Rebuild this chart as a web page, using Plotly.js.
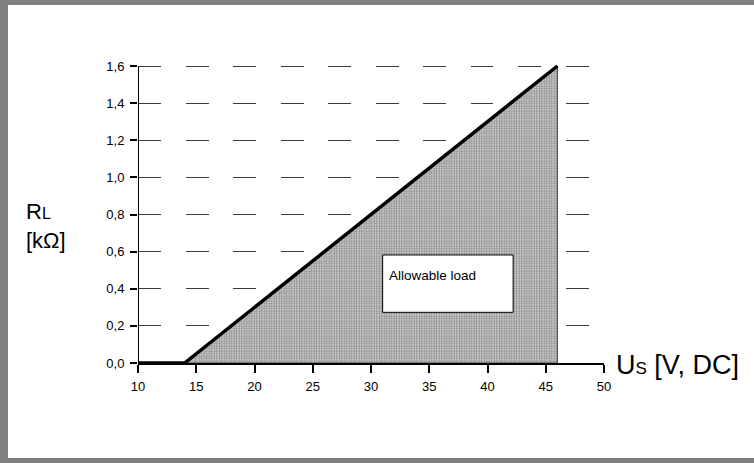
<!DOCTYPE html>
<html>
<head>
<meta charset="utf-8">
<script src="https://cdn.plot.ly/plotly-3.0.1.min.js"></script>
<style>
html,body{margin:0;padding:0;background:#fff;}
#wrap{position:relative;width:754px;height:463px;}
#chart{width:754px;height:463px;}
#frame{position:absolute;left:0;top:0;width:754px;height:463px;box-sizing:border-box;
 border-left:8px solid #808080;border-top:5px solid #808080;border-bottom:5px solid #808080;pointer-events:none;}
</style>
</head>
<body>
<div id="wrap"><div id="chart"></div><div id="frame"></div></div>
<script>
// Data
const supplyVoltage = [10, 14, 46];          // U_S [V, DC]
const loadResistance = [0.0, 0.0, 1.6];      // R_L [kOhm], boundary line
const areaVoltage = [14, 46, 46, 14];        // allowable-load region outline
const areaResistance = [0.0, 1.6, 0.0, 0.0];
const xTickVals = [10, 15, 20, 25, 30, 35, 40, 45, 50];
const yTickVals = [0.0, 0.2, 0.4, 0.6, 0.8, 1.0, 1.2, 1.4, 1.6];
const yTickText = ['0,0', '0,2', '0,4', '0,6', '0,8', '1,0', '1,2', '1,4', '1,6'];
const regionLabel = 'Allowable load';
const regionBoxX = [31, 42.2];
const regionBoxY = [0.273, 0.582];

const font = 'Liberation Sans, Arial, Helvetica, sans-serif';

const traces = [
  {
    x: areaVoltage, y: areaResistance, type: 'scatter', mode: 'lines',
    fill: 'toself', fillcolor: '#c4c4c4',
    fillpattern: {shape: '.', bgcolor: '#cfcfcf', fgcolor: '#858585', size: 2.5, solidity: 0.45},
    line: {color: '#444', width: 1}, hoverinfo: 'skip', showlegend: false
  },
  {
    x: supplyVoltage, y: loadResistance, type: 'scatter', mode: 'lines',
    line: {color: '#000', width: 3.5}, showlegend: false
  }
];

const yTop = 1.6 + 6 / 185.6;

const layout = {
  width: 754, height: 463,
  margin: {l: 138, r: 150, t: 60, b: 100, pad: 0},
  paper_bgcolor: '#fff', plot_bgcolor: 'rgba(0,0,0,0)',
  showlegend: false,
  font: {family: font, color: '#000', size: 13},
  xaxis: {
    range: [10, 50], tickvals: xTickVals, ticktext: xTickVals.map(String),
    showgrid: false, zeroline: false,
    showline: true, linecolor: '#000', linewidth: 2,
    ticks: 'outside', ticklen: 8, tickwidth: 2, tickcolor: '#000',
    tickfont: {family: font, size: 13, color: '#000'},
    ticklabelstandoff: 2, fixedrange: true
  },
  yaxis: {
    range: [0, yTop], tickvals: yTickVals, ticktext: yTickText,
    showgrid: true, gridcolor: '#3a3a3a', gridwidth: 1, griddash: '23px,24.5px',
    zeroline: false, showline: false,
    ticks: 'outside', ticklen: 7, tickwidth: 2, tickcolor: '#000',
    tickfont: {family: font, size: 13, color: '#000'},
    ticklabelstandoff: 3, fixedrange: true
  },
  shapes: [
    {type: 'line', xref: 'x', yref: 'y', x0: xTickVals[0], x1: xTickVals[0],
     y0: yTickVals[0], y1: yTickVals[yTickVals.length - 1], line: {color: '#000', width: 2}},
    {type: 'rect', xref: 'x', yref: 'y', x0: regionBoxX[0], x1: regionBoxX[1],
     y0: regionBoxY[0], y1: regionBoxY[1], fillcolor: '#fff', line: {color: '#000', width: 1}, layer: 'above'}
  ],
  annotations: [
    {text: regionLabel, xref: 'x', yref: 'y', x: regionBoxX[0] + 0.4, y: regionBoxY[1] - 0.06,
     xanchor: 'left', yanchor: 'top', showarrow: false, font: {family: font, size: 13.5, color: '#000'}},
    {text: 'U<span style="font-size:17px">S</span> [V, DC]', xref: 'paper', yref: 'y',
     x: (614 - 138) / 466, y: 0, xanchor: 'left', yanchor: 'middle', yshift: -2, showarrow: false,
     font: {family: font, size: 27, color: '#000'}},
    {text: 'R<span style="font-size:16px">L</span><br>[kΩ]', xref: 'paper', yref: 'paper',
     x: (24 - 138) / 466, y: (363 - 226) / 302.6, xanchor: 'left', yanchor: 'middle', align: 'left',
     showarrow: false, font: {family: font, size: 22, color: '#000'}}
  ]
};

Plotly.newPlot('chart', traces, layout, {displayModeBar: false, staticPlot: true});
</script>
</body>
</html>
